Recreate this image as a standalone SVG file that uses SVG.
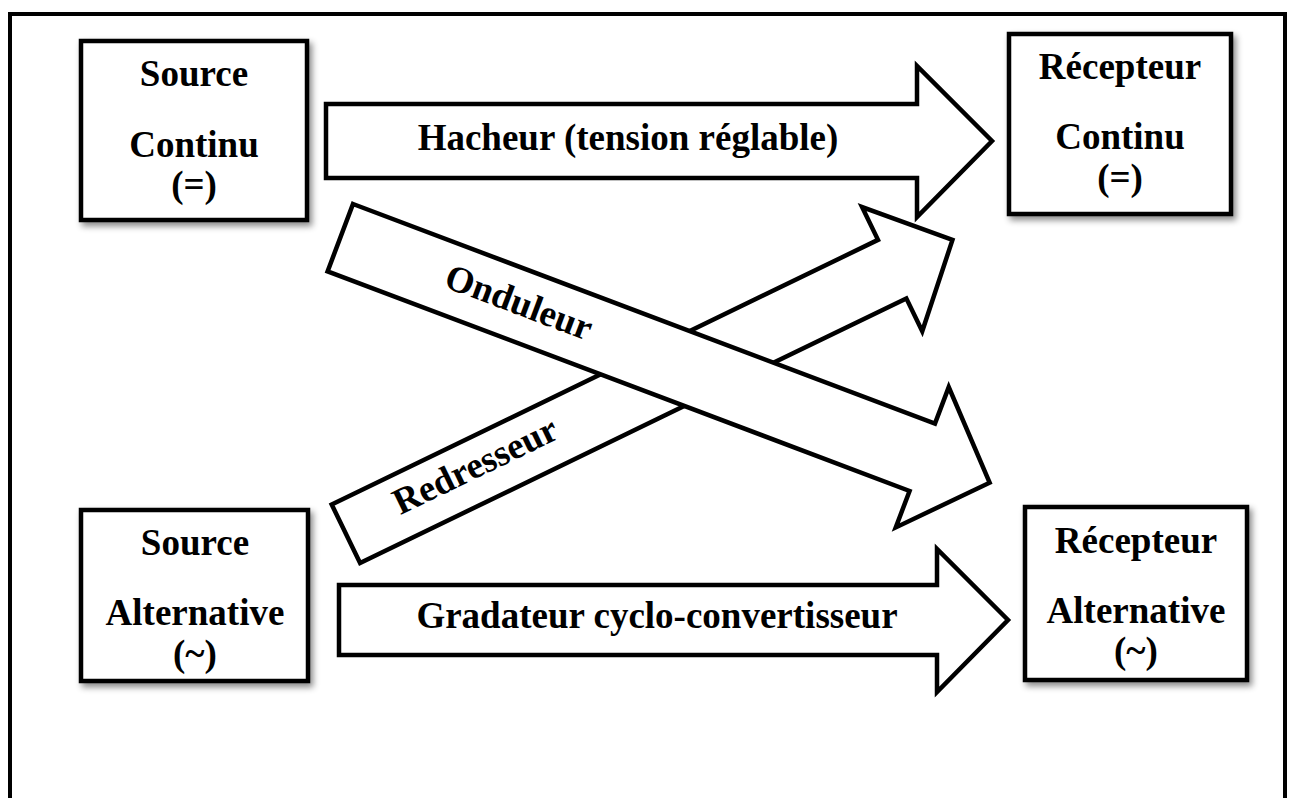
<svg xmlns="http://www.w3.org/2000/svg" width="1289" height="798" viewBox="0 0 1289 798">
<defs>
<filter id="sh" x="-10%" y="-10%" width="130%" height="130%">
<feDropShadow dx="3" dy="4" stdDeviation="3" flood-color="#000" flood-opacity="0.45"/>
</filter>
<style>
.box{fill:#fff;stroke:#000;stroke-width:4.5;filter:url(#sh)}
.arr{fill:#fff;stroke:#000;stroke-width:4.5;stroke-linejoin:miter}
.t{font-family:"Liberation Serif","Times New Roman",serif;font-weight:bold;font-size:37px;fill:#000;text-anchor:middle}
</style>
</defs>
<rect x="0" y="0" width="1289" height="798" fill="#fff"/>
<rect x="10" y="14" width="1275" height="820" fill="none" stroke="#000" stroke-width="4"/>

<g id="connectors">
<g id="hacheur">
<polygon class="arr" points="326,104 917,104 917,66 992,141 917,217 917,178 326,178"/>
<text class="t" x="628" y="150">Hacheur (tension réglable)</text>
</g>
<g id="redresseur" transform="translate(345.9,533.8) rotate(-25.85)">
<polygon class="arr" points="0,-32.5 607,-32.5 607,-69 674,0 607,69 607,32.5 0,32.5"/>
<text class="t" x="146" y="7">Redresseur</text>
</g>
<g id="onduleur" transform="translate(340.3,237.7) rotate(20.67)">
<polygon class="arr" points="0,-36 622,-36 622,-75 694,0 622,75 622,36 0,36"/>
<text class="t" x="190" y="9.5">Onduleur</text>
</g>
<g id="gradateur">
<polygon class="arr" points="339,585 937,585 937,549 1008,620 937,692 937,655 339,655"/>
<text class="t" x="657" y="628">Gradateur cyclo-convertisseur</text>
</g>
</g>

<g id="source-continu">
<rect class="box" x="81" y="41" width="226" height="179"/>
<text class="t" x="194" y="86">Source</text>
<text class="t" x="194" y="157">Continu</text>
<text class="t" x="194" y="197">(=)</text>
</g>
<g id="recepteur-continu">
<rect class="box" x="1009" y="34" width="222" height="180"/>
<text class="t" x="1120" y="79">Récepteur</text>
<text class="t" x="1120" y="149">Continu</text>
<text class="t" x="1120" y="190">(=)</text>
</g>
<g id="source-alternative">
<rect class="box" x="81" y="510" width="227" height="171"/>
<text class="t" x="195" y="555">Source</text>
<text class="t" x="195" y="625">Alternative</text>
<text class="t" x="195" y="666">(~)</text>
</g>
<g id="recepteur-alternative">
<rect class="box" x="1025" y="507" width="222" height="173"/>
<text class="t" x="1136" y="553">Récepteur</text>
<text class="t" x="1136" y="623">Alternative</text>
<text class="t" x="1136" y="663">(~)</text>
</g>
</svg>
